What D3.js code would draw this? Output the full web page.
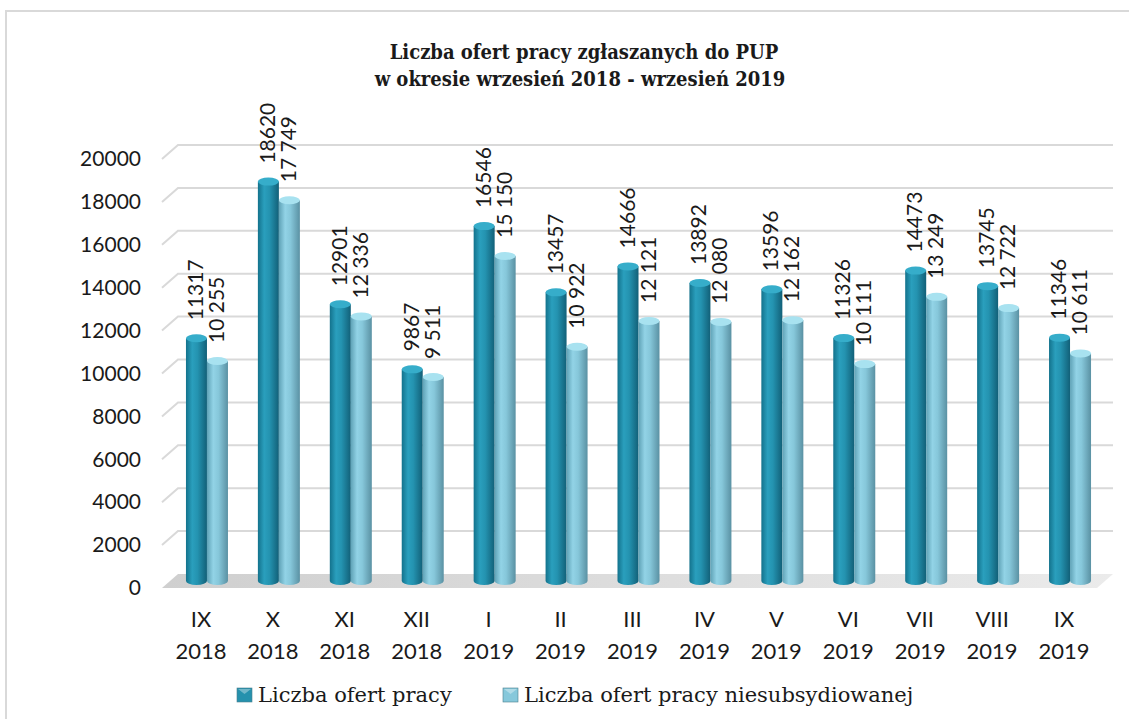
<!DOCTYPE html>
<html>
<head>
<meta charset="utf-8">
<script src="https://cdn.jsdelivr.net/npm/d3@7"></script>
<style>
  body { margin: 0; background: #fff; }
  svg text { fill: #1a1a1a; }
</style>
</head>
<body>
<div id="chart"></div>
<script>
// data
const months = ["IX", "X", "XI", "XII", "I", "II", "III", "IV", "V", "VI", "VII", "VIII", "IX"];
const years = ["2018", "2018", "2018", "2018", "2019", "2019", "2019", "2019", "2019", "2019", "2019", "2019", "2019"];
const ofertyPracy = [11317, 18620, 12901, 9867, 16546, 13457, 14666, 13892, 13596, 11326, 14473, 13745, 11346];
const ofertyNiesubsydiowane = [10255, 17749, 12336, 9511, 15150, 10922, 12121, 12080, 12162, 10111, 13249, 12722, 10611];
const yTicks = [0, 2000, 4000, 6000, 8000, 10000, 12000, 14000, 16000, 18000, 20000];
const seriesNames = ["Liczba ofert pracy", "Liczba ofert pracy niesubsydiowanej"];

const W = 1129, H = 719;
const depth = {dx: 16, dy: -14};
const keys = months.map((m, i) => m + " " + years[i]);

const svg = d3.select("#chart").append("svg")
    .attr("width", W)
    .attr("height", H);

const defs = svg.append("defs");

function cylGradient(id, stops) {
    const g = defs.append("linearGradient").attr("id", id)
        .attr("x1", "0%").attr("x2", "100%").attr("y1", "0%").attr("y2", "0%");
    stops.forEach(s => g.append("stop").attr("offset", s[0]).attr("stop-color", s[1]));
}
cylGradient("darkBody", [["0%", "#13728c"], ["30%", "#2a9fbd"], ["55%", "#2493b0"], ["100%", "#126078"]]);
cylGradient("lightBody", [["0%", "#5fa2b6"], ["30%", "#92d3e6"], ["55%", "#86c7da"], ["100%", "#5a91a3"]]);
cylGradient("floorGrad", [["0%", "#cfcfcf"], ["100%", "#ebebeb"]]);

const colors = {
    body: ["url(#darkBody)", "url(#lightBody)"],
    top: ["#36adca", "#a8e2f0"],
    marker: ["#2591ad", "#86c8db"]
};

// frame
svg.append("rect")
    .attr("x", 6).attr("y", 11)
    .attr("width", W + 10).attr("height", H + 10)
    .attr("fill", "none")
    .attr("stroke", "#d9d9d9")
    .attr("stroke-width", 2);

// title
const titleFont = "'DejaVu Serif Condensed', 'Liberation Serif', serif";
svg.append("text")
    .attr("x", 584).attr("y", 59)
    .attr("text-anchor", "middle")
    .style("font-family", titleFont)
    .style("font-weight", "bold")
    .style("font-size", "20px")
    .text("Liczba ofert pracy zgłaszanych do PUP");
svg.append("text")
    .attr("x", 580).attr("y", 86)
    .attr("text-anchor", "middle")
    .style("font-family", titleFont)
    .style("font-weight", "bold")
    .style("font-size", "20px")
    .text("w okresie wrzesień 2018 - wrzesień 2019");

const y = d3.scaleLinear().domain([0, 20000]).range([588, 159]);
const x = d3.scaleBand().domain(keys).range([162, 1097]);
const xs = d3.scaleBand().domain([0, 1]).range([-21, 21]);

const x0 = x.range()[0], x1 = x.range()[1];

// floor
svg.append("path")
    .attr("d", `M${x0},${y(0)} L${x0 + depth.dx},${y(0) + depth.dy} L${x1 + depth.dx},${y(0) + depth.dy} L${x1},${y(0)} Z`)
    .attr("fill", "url(#floorGrad)");

// gridlines: short diagonal on the side wall, then along the back wall
svg.append("g").selectAll("path")
    .data(yTicks.filter(d => d > 0))
    .enter().append("path")
    .attr("d", d => `M${x0},${y(d)} L${x0 + depth.dx},${y(d) + depth.dy} L${x1 + depth.dx},${y(d) + depth.dy}`)
    .attr("fill", "none")
    .attr("stroke", "#d9d9d9")
    .attr("stroke-width", 2);

// y axis labels
const yAxis = svg.append("g")
    .attr("transform", "translate(141,0)")
    .call(d3.axisLeft(y).tickValues(yTicks).tickSize(0).tickPadding(0).tickFormat(d3.format("d")));
yAxis.select(".domain").remove();
yAxis.selectAll("text")
    .style("font-family", "Lato, 'Open Sans', sans-serif")
    .style("font-size", "21px")
    .attr("fill", "#1a1a1a");

// bars as cylinders
const rx = xs.bandwidth() / 2, ry = 4;
const baseY = v => y(v) + depth.dy / 2;
const groupX = k => x(k) + x.bandwidth() / 2 + depth.dx / 2 + 1;

const bars = [];
keys.forEach((k, i) => {
    [ofertyPracy[i], ofertyNiesubsydiowane[i]].forEach((v, s) => {
        bars.push({key: k, s: s, v: v, cx: groupX(k) + xs(s) + rx});
    });
});

const barG = svg.append("g").selectAll("g")
    .data(bars)
    .enter().append("g");

barG.append("path")
    .attr("d", d => {
        const l = d.cx - rx, r = d.cx + rx, t = baseY(d.v), b = baseY(0);
        return `M${l},${t} L${l},${b} A${rx},${ry} 0 0 0 ${r},${b} L${r},${t} Z`;
    })
    .attr("fill", d => colors.body[d.s]);

barG.append("ellipse")
    .attr("cx", d => d.cx)
    .attr("cy", d => baseY(d.v))
    .attr("rx", rx)
    .attr("ry", ry)
    .attr("fill", d => colors.top[d.s]);

// value labels
const spaceFmt = d3.formatLocale({decimal: ",", thousands: " ", grouping: [3], currency: ["", ""]}).format(",");
barG.append("text")
    .attr("transform", d => `translate(${d.cx - 2},${baseY(d.v) - 18}) rotate(-90)`)
    .attr("text-anchor", "start")
    .attr("dominant-baseline", "central")
    .style("font-family", "Lato, 'Open Sans', sans-serif")
    .style("font-size", "21px")
    .text(d => d.s === 0 ? d3.format("d")(d.v) : spaceFmt(d.v));

// category labels
const xl = svg.append("g").selectAll("text")
    .data(keys)
    .enter().append("text")
    .attr("text-anchor", "middle")
    .style("font-family", "Lato, 'Open Sans', sans-serif")
    .style("font-size", "22px");
xl.append("tspan")
    .attr("x", (d) => groupX(d) - 6)
    .attr("y", 627)
    .text((d, i) => months[i]);
xl.append("tspan")
    .attr("x", (d) => groupX(d) - 6)
    .attr("y", 659)
    .text((d, i) => years[i]);

// legend
const legendItems = [
    {x: 237, text: seriesNames[0], color: colors.marker[0]},
    {x: 503, text: seriesNames[1], color: colors.marker[1]}
];
const lg = svg.append("g").selectAll("g")
    .data(legendItems)
    .enter().append("g")
    .attr("transform", d => `translate(${d.x},688)`);
lg.append("rect")
    .attr("width", 15).attr("height", 14)
    .attr("fill", d => d.color)
    .attr("stroke", "#4a7f8e")
    .attr("stroke-width", 0.6);
lg.append("path")
    .attr("d", "M1,1 L14,1 L7.5,6 Z")
    .attr("fill", "#ffffff")
    .attr("opacity", 0.35);
lg.append("text")
    .attr("x", 21)
    .attr("y", 14)
    .style("font-family", "'DejaVu Serif', 'Liberation Serif', serif")
    .style("font-size", "21px")
    .text(d => d.text);
</script>
</body>
</html>
